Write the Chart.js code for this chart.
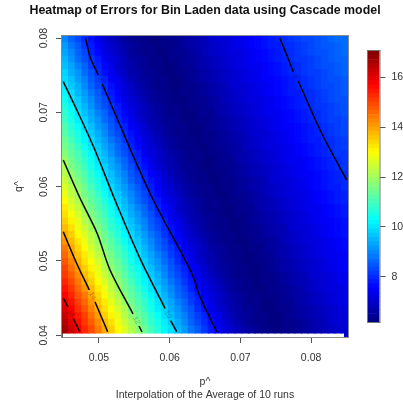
<!DOCTYPE html>
<html>
<head>
<meta charset="utf-8">
<title>Heatmap of Errors</title>
<script src="https://cdn.jsdelivr.net/npm/chart.js@4"></script>
<style>
  html, body { margin: 0; padding: 0; background: #fff; }
  #wrap { position: relative; width: 403px; height: 406px; overflow: hidden; filter: blur(0.45px); }
  canvas { position: absolute; top: 0; }
  #heat { left: 0; }
  #key { left: 355px; }
</style>
</head>
<body>
<div id="wrap">
  <canvas id="heat" width="403" height="406"></canvas>
  <canvas id="key" width="48" height="406"></canvas>
</div>
<script>
const titleText = 'Heatmap of Errors for Bin Laden data using Cascade model';
//grid columns (p^) left to right
const pHat = [0.04524,0.04618,0.04712,0.04806,0.04900,0.04994,0.05089,0.05183,0.05277,0.05371,0.05465,0.05559,0.05653,0.05747,0.05841,0.05935,0.06030,0.06124,0.06218,0.06312,0.06406,0.06500,0.06594,0.06688,0.06782,0.06877,0.06971,0.07065,0.07159,0.07253,0.07347,0.07441,0.07535,0.07629,0.07723,0.07818,0.07912,0.08006,0.08100,0.08194,0.08288,0.08382,0.08476];
//grid rows (q^) top to bottom
const qHat = [0.07983,0.07892,0.07801,0.07710,0.07619,0.07529,0.07438,0.07347,0.07256,0.07165,0.07074,0.06984,0.06893,0.06802,0.06711,0.06620,0.06529,0.06439,0.06348,0.06257,0.06166,0.06075,0.05985,0.05894,0.05803,0.05712,0.05621,0.05530,0.05440,0.05349,0.05258,0.05167,0.05076,0.04985,0.04895,0.04804,0.04713,0.04622,0.04531,0.04440,0.04350,0.04259,0.04168,0.04077];
//errors, one line per qHat row
const errors = [
[9.0,8.6,8.3,8.0,7.7,7.4,7.1,6.9,6.7,6.5,6.4,6.3,6.3,6.2,6.2,6.3,6.3,6.4,6.5,6.6,6.7,6.8,7.0,7.1,7.1,7.2,7.3,7.4,7.5,7.6,7.7,7.8,7.9,8.0,8.1,8.2,8.3,8.3,8.4,8.5,8.6,8.7,8.7],
[9.2,8.8,8.5,8.1,7.8,7.5,7.2,7.0,6.8,6.6,6.5,6.4,6.3,6.3,6.2,6.3,6.3,6.4,6.5,6.6,6.7,6.8,6.9,7.0,7.1,7.2,7.3,7.4,7.5,7.6,7.7,7.8,7.8,8.0,8.0,8.1,8.2,8.3,8.4,8.5,8.5,8.6,8.7],
[9.3,9.0,8.6,8.3,7.9,7.6,7.3,7.1,6.9,6.7,6.5,6.4,6.3,6.3,6.2,6.2,6.3,6.4,6.4,6.5,6.6,6.8,6.9,7.0,7.1,7.2,7.2,7.3,7.4,7.5,7.6,7.7,7.8,7.9,8.0,8.1,8.2,8.3,8.4,8.4,8.5,8.6,8.7],
[9.5,9.1,8.7,8.4,8.1,7.8,7.4,7.2,7.0,6.8,6.6,6.5,6.4,6.3,6.3,6.2,6.3,6.3,6.4,6.5,6.6,6.7,6.8,6.9,7.0,7.1,7.2,7.3,7.4,7.5,7.6,7.7,7.8,7.9,8.0,8.1,8.1,8.2,8.3,8.4,8.5,8.6,8.6],
[9.6,9.3,8.9,8.6,8.2,7.9,7.6,7.3,7.0,6.8,6.7,6.5,6.4,6.3,6.3,6.2,6.2,6.3,6.4,6.4,6.6,6.7,6.8,6.9,7.0,7.1,7.2,7.3,7.4,7.4,7.5,7.6,7.7,7.8,7.9,8.0,8.1,8.2,8.3,8.4,8.4,8.5,8.6],
[9.8,9.4,9.1,8.7,8.4,8.0,7.7,7.4,7.1,6.9,6.7,6.6,6.4,6.4,6.3,6.2,6.2,6.3,6.3,6.4,6.5,6.6,6.7,6.8,6.9,7.0,7.1,7.2,7.3,7.4,7.5,7.6,7.7,7.8,7.9,8.0,8.1,8.2,8.2,8.3,8.4,8.5,8.6],
[9.9,9.6,9.2,8.9,8.5,8.2,7.9,7.5,7.3,7.0,6.8,6.6,6.5,6.4,6.3,6.3,6.2,6.2,6.3,6.4,6.5,6.6,6.7,6.8,6.9,7.0,7.1,7.2,7.3,7.4,7.5,7.5,7.6,7.7,7.8,7.9,8.0,8.1,8.2,8.3,8.4,8.4,8.5],
[10.1,9.7,9.4,9.0,8.6,8.3,8.0,7.7,7.4,7.1,6.9,6.7,6.5,6.4,6.3,6.3,6.2,6.2,6.3,6.3,6.4,6.5,6.6,6.7,6.8,7.0,7.1,7.1,7.2,7.3,7.4,7.5,7.6,7.7,7.8,7.9,8.0,8.1,8.2,8.3,8.3,8.4,8.5],
[10.2,9.9,9.5,9.2,8.8,8.5,8.1,7.8,7.5,7.2,7.0,6.8,6.6,6.5,6.4,6.3,6.3,6.2,6.3,6.3,6.4,6.5,6.6,6.7,6.8,6.9,7.0,7.1,7.2,7.3,7.4,7.5,7.6,7.7,7.8,7.8,8.0,8.0,8.1,8.2,8.3,8.4,8.5],
[10.4,10.0,9.7,9.3,9.0,8.6,8.3,7.9,7.6,7.3,7.1,6.9,6.7,6.5,6.4,6.3,6.3,6.2,6.2,6.3,6.4,6.4,6.5,6.6,6.8,6.9,7.0,7.1,7.2,7.2,7.3,7.4,7.5,7.6,7.7,7.8,7.9,8.0,8.1,8.2,8.3,8.4,8.4],
[10.6,10.2,9.8,9.5,9.1,8.7,8.4,8.1,7.8,7.4,7.2,7.0,6.8,6.6,6.5,6.4,6.3,6.3,6.2,6.3,6.3,6.4,6.5,6.6,6.7,6.8,6.9,7.0,7.1,7.2,7.3,7.4,7.5,7.6,7.7,7.8,7.9,8.0,8.1,8.1,8.2,8.3,8.4],
[10.8,10.4,10.0,9.6,9.3,8.9,8.6,8.2,7.9,7.6,7.3,7.0,6.8,6.7,6.5,6.4,6.3,6.3,6.2,6.2,6.3,6.4,6.4,6.6,6.7,6.8,6.9,7.0,7.1,7.2,7.3,7.4,7.4,7.5,7.6,7.7,7.8,7.9,8.0,8.1,8.2,8.3,8.4],
[10.9,10.5,10.1,9.8,9.4,9.1,8.7,8.4,8.0,7.7,7.4,7.1,6.9,6.7,6.6,6.4,6.4,6.3,6.2,6.2,6.3,6.3,6.4,6.5,6.6,6.7,6.8,6.9,7.0,7.1,7.2,7.3,7.4,7.5,7.6,7.7,7.8,7.9,8.0,8.1,8.2,8.2,8.3],
[11.1,10.7,10.3,9.9,9.6,9.2,8.9,8.5,8.2,7.9,7.5,7.3,7.0,6.8,6.6,6.5,6.4,6.3,6.3,6.2,6.2,6.3,6.4,6.5,6.6,6.7,6.8,6.9,7.0,7.1,7.2,7.3,7.4,7.5,7.5,7.6,7.7,7.8,7.9,8.0,8.1,8.2,8.3],
[11.2,10.8,10.5,10.1,9.7,9.4,9.0,8.6,8.3,8.0,7.7,7.4,7.1,6.9,6.7,6.5,6.4,6.3,6.3,6.2,6.2,6.3,6.3,6.4,6.5,6.6,6.7,6.8,7.0,7.1,7.1,7.2,7.3,7.4,7.5,7.6,7.7,7.8,7.9,8.0,8.1,8.2,8.3],
[11.4,11.0,10.6,10.2,9.9,9.5,9.2,8.8,8.5,8.1,7.8,7.5,7.2,7.0,6.8,6.6,6.5,6.4,6.3,6.3,6.2,6.3,6.3,6.4,6.5,6.6,6.7,6.8,6.9,7.0,7.1,7.2,7.3,7.4,7.5,7.6,7.7,7.8,7.8,8.0,8.0,8.1,8.2],
[11.5,11.2,10.8,10.4,10.0,9.7,9.3,9.0,8.6,8.3,7.9,7.6,7.3,7.1,6.9,6.7,6.5,6.4,6.3,6.3,6.2,6.2,6.3,6.4,6.4,6.5,6.6,6.8,6.9,7.0,7.1,7.2,7.2,7.3,7.4,7.5,7.6,7.7,7.8,7.9,8.0,8.1,8.2],
[11.7,11.3,11.0,10.6,10.2,9.8,9.5,9.1,8.7,8.4,8.1,7.8,7.4,7.2,7.0,6.8,6.6,6.5,6.4,6.3,6.3,6.2,6.3,6.3,6.4,6.5,6.6,6.7,6.8,6.9,7.0,7.1,7.2,7.3,7.4,7.5,7.6,7.7,7.8,7.9,8.0,8.1,8.1],
[11.9,11.5,11.1,10.8,10.4,10.0,9.6,9.3,8.9,8.6,8.2,7.9,7.6,7.3,7.0,6.8,6.7,6.5,6.4,6.3,6.3,6.2,6.2,6.3,6.4,6.4,6.6,6.7,6.8,6.9,7.0,7.1,7.2,7.3,7.4,7.4,7.5,7.6,7.7,7.8,7.9,8.0,8.1],
[12.1,11.6,11.3,10.9,10.5,10.1,9.8,9.4,9.1,8.7,8.4,8.0,7.7,7.4,7.1,6.9,6.7,6.6,6.4,6.4,6.3,6.2,6.2,6.3,6.3,6.4,6.5,6.6,6.7,6.8,6.9,7.0,7.1,7.2,7.3,7.4,7.5,7.6,7.7,7.8,7.9,8.0,8.1],
[12.2,11.8,11.4,11.1,10.7,10.3,9.9,9.6,9.2,8.9,8.5,8.2,7.9,7.5,7.3,7.0,6.8,6.6,6.5,6.4,6.3,6.3,6.2,6.2,6.3,6.4,6.5,6.6,6.7,6.8,6.9,7.0,7.1,7.2,7.3,7.4,7.5,7.5,7.6,7.7,7.8,7.9,8.0],
[12.4,12.0,11.6,11.2,10.8,10.5,10.1,9.7,9.4,9.0,8.6,8.3,8.0,7.7,7.4,7.1,6.9,6.7,6.5,6.4,6.3,6.3,6.2,6.2,6.3,6.3,6.4,6.5,6.6,6.7,6.8,7.0,7.1,7.1,7.2,7.3,7.4,7.5,7.6,7.7,7.8,7.9,8.0],
[12.6,12.2,11.8,11.4,11.0,10.6,10.2,9.9,9.5,9.2,8.8,8.5,8.1,7.8,7.5,7.2,7.0,6.8,6.6,6.5,6.4,6.3,6.3,6.2,6.3,6.3,6.4,6.5,6.6,6.7,6.8,6.9,7.0,7.1,7.2,7.3,7.4,7.5,7.6,7.7,7.8,7.8,8.0],
[12.8,12.3,11.9,11.5,11.2,10.8,10.4,10.0,9.7,9.3,9.0,8.6,8.3,7.9,7.6,7.3,7.1,6.9,6.7,6.5,6.4,6.3,6.3,6.2,6.2,6.3,6.4,6.4,6.5,6.6,6.8,6.9,7.0,7.1,7.2,7.2,7.3,7.4,7.5,7.6,7.7,7.8,7.9],
[13.0,12.5,12.1,11.7,11.3,11.0,10.6,10.2,9.8,9.5,9.1,8.7,8.4,8.1,7.8,7.4,7.2,7.0,6.8,6.6,6.5,6.4,6.3,6.3,6.2,6.3,6.3,6.4,6.5,6.6,6.7,6.8,6.9,7.0,7.1,7.2,7.3,7.4,7.5,7.6,7.7,7.8,7.9],
[13.2,12.7,12.3,11.9,11.5,11.1,10.8,10.4,10.0,9.6,9.3,8.9,8.6,8.2,7.9,7.6,7.3,7.0,6.8,6.7,6.5,6.4,6.3,6.3,6.2,6.2,6.3,6.4,6.4,6.6,6.7,6.8,6.9,7.0,7.1,7.2,7.3,7.4,7.4,7.5,7.6,7.7,7.8],
[13.3,12.9,12.5,12.1,11.6,11.3,10.9,10.5,10.1,9.8,9.4,9.1,8.7,8.4,8.0,7.7,7.4,7.1,6.9,6.7,6.6,6.4,6.4,6.3,6.2,6.2,6.3,6.3,6.4,6.5,6.6,6.7,6.8,6.9,7.0,7.1,7.2,7.3,7.4,7.5,7.6,7.7,7.8],
[13.5,13.1,12.7,12.2,11.8,11.4,11.1,10.7,10.3,9.9,9.6,9.2,8.9,8.5,8.2,7.9,7.5,7.3,7.0,6.8,6.6,6.5,6.4,6.3,6.3,6.2,6.2,6.3,6.4,6.5,6.6,6.7,6.8,6.9,7.0,7.1,7.2,7.3,7.4,7.5,7.5,7.6,7.7],
[13.7,13.3,12.8,12.4,12.0,11.6,11.2,10.8,10.5,10.1,9.7,9.4,9.0,8.6,8.3,8.0,7.7,7.4,7.1,6.9,6.7,6.5,6.4,6.3,6.3,6.2,6.2,6.3,6.3,6.4,6.5,6.6,6.7,6.8,7.0,7.1,7.1,7.2,7.3,7.4,7.5,7.6,7.7],
[13.9,13.5,13.0,12.6,12.2,11.8,11.4,11.0,10.6,10.2,9.9,9.5,9.2,8.8,8.5,8.1,7.8,7.5,7.2,7.0,6.8,6.6,6.5,6.4,6.3,6.3,6.2,6.3,6.3,6.4,6.5,6.6,6.7,6.8,6.9,7.0,7.1,7.2,7.3,7.4,7.5,7.6,7.7],
[14.1,13.7,13.2,12.8,12.3,11.9,11.5,11.2,10.8,10.4,10.0,9.7,9.3,9.0,8.6,8.3,7.9,7.6,7.3,7.1,6.9,6.7,6.5,6.4,6.3,6.3,6.2,6.2,6.3,6.4,6.4,6.5,6.6,6.8,6.9,7.0,7.1,7.2,7.2,7.3,7.4,7.5,7.6],
[14.4,13.9,13.4,13.0,12.5,12.1,11.7,11.3,11.0,10.6,10.2,9.8,9.5,9.1,8.7,8.4,8.1,7.8,7.4,7.2,7.0,6.8,6.6,6.5,6.4,6.3,6.3,6.2,6.3,6.3,6.4,6.5,6.6,6.7,6.8,6.9,7.0,7.1,7.2,7.3,7.4,7.5,7.6],
[14.6,14.1,13.6,13.2,12.7,12.3,11.9,11.5,11.1,10.8,10.4,10.0,9.6,9.3,8.9,8.6,8.2,7.9,7.6,7.3,7.0,6.8,6.7,6.5,6.4,6.3,6.3,6.2,6.2,6.3,6.4,6.4,6.6,6.7,6.8,6.9,7.0,7.1,7.2,7.3,7.4,7.4,7.5],
[14.8,14.3,13.8,13.3,12.9,12.5,12.1,11.6,11.3,10.9,10.5,10.1,9.8,9.4,9.1,8.7,8.4,8.0,7.7,7.4,7.1,6.9,6.7,6.6,6.4,6.4,6.3,6.2,6.2,6.3,6.3,6.4,6.5,6.6,6.7,6.8,6.9,7.0,7.1,7.2,7.3,7.4,7.5],
[15.0,14.5,14.0,13.5,13.1,12.7,12.2,11.8,11.4,11.1,10.7,10.3,9.9,9.6,9.2,8.9,8.5,8.2,7.9,7.5,7.3,7.0,6.8,6.6,6.5,6.4,6.3,6.3,6.2,6.2,6.3,6.4,6.5,6.6,6.7,6.8,6.9,7.0,7.1,7.2,7.3,7.4,7.5],
[15.1,14.7,14.2,13.7,13.3,12.8,12.4,12.0,11.6,11.2,10.8,10.5,10.1,9.7,9.4,9.0,8.6,8.3,8.0,7.7,7.4,7.1,6.9,6.7,6.5,6.4,6.3,6.3,6.2,6.2,6.3,6.3,6.4,6.5,6.6,6.7,6.8,7.0,7.1,7.1,7.2,7.3,7.4],
[15.3,14.9,14.4,13.9,13.5,13.0,12.6,12.2,11.8,11.4,11.0,10.6,10.2,9.9,9.5,9.2,8.8,8.5,8.1,7.8,7.5,7.2,7.0,6.8,6.6,6.5,6.4,6.3,6.3,6.2,6.3,6.3,6.4,6.5,6.6,6.7,6.8,6.9,7.0,7.1,7.2,7.3,7.4],
[15.5,15.1,14.6,14.1,13.7,13.2,12.8,12.3,11.9,11.5,11.2,10.8,10.4,10.0,9.7,9.3,9.0,8.6,8.3,7.9,7.6,7.3,7.1,6.9,6.7,6.5,6.4,6.3,6.3,6.2,6.2,6.3,6.4,6.4,6.5,6.6,6.8,6.9,7.0,7.1,7.2,7.2,7.3],
[15.7,15.3,14.8,14.4,13.9,13.4,13.0,12.5,12.1,11.7,11.3,11.0,10.6,10.2,9.8,9.5,9.1,8.7,8.4,8.1,7.8,7.4,7.2,7.0,6.8,6.6,6.5,6.4,6.3,6.3,6.2,6.3,6.3,6.4,6.5,6.6,6.7,6.8,6.9,7.0,7.1,7.2,7.3],
[15.9,15.5,15.0,14.6,14.1,13.6,13.2,12.7,12.3,11.9,11.5,11.1,10.8,10.4,10.0,9.6,9.3,8.9,8.6,8.2,7.9,7.6,7.3,7.0,6.8,6.7,6.5,6.4,6.3,6.3,6.2,6.2,6.3,6.4,6.4,6.6,6.7,6.8,6.9,7.0,7.1,7.2,7.3],
[16.1,15.7,15.2,14.8,14.3,13.8,13.3,12.9,12.5,12.1,11.6,11.3,10.9,10.5,10.1,9.8,9.4,9.1,8.7,8.4,8.0,7.7,7.4,7.1,6.9,6.7,6.6,6.4,6.4,6.3,6.2,6.2,6.3,6.3,6.4,6.5,6.6,6.7,6.8,6.9,7.0,7.1,7.2],
[16.3,15.8,15.4,15.0,14.5,14.0,13.5,13.1,12.7,12.2,11.8,11.4,11.1,10.7,10.3,9.9,9.6,9.2,8.9,8.5,8.2,7.9,7.5,7.3,7.0,6.8,6.6,6.5,6.4,6.3,6.3,6.2,6.2,6.3,6.4,6.5,6.6,6.7,6.8,6.9,7.0,7.1,7.2],
[16.5,16.0,15.6,15.1,14.7,14.2,13.7,13.3,12.8,12.4,12.0,11.6,11.2,10.8,10.5,10.1,9.7,9.4,9.0,8.6,8.3,8.0,7.7,7.4,7.1,6.9,6.7,6.5,6.4,6.3,6.3,6.2,6.2,6.3,6.3,6.4,6.5,6.6,6.7,6.8,7.0,7.1,7.1],
[16.7,16.2,15.8,15.3,14.9,14.4,13.9,13.5,13.0,12.6,12.2,11.8,11.4,11.0,10.6,10.2,9.9,9.5,9.2,8.8,8.5,8.1,7.8,7.5,7.2,7.0,6.8,6.6,6.5,6.4,6.3,6.3,6.2,6.3,6.3,6.4,6.5,6.6,6.7,6.8,6.9,7.0,7.1]
];
//the last column runs a bit lower than the rest of the grid
const cornerP = [0.08494];
const cornerQ = [0.04004];
const cornerErr = [7.1];

//contour pieces, R leaves gaps where the labels sit
const contourP = [
  [0.04495,0.04562],[0.04636,0.04727],
  [0.04495,0.04675,0.04863],[0.04943,0.05123],
  [0.04495,0.04731,0.04972,0.05156,0.05481],[0.05566,0.05608],
  [0.04495,0.04731,0.04943,0.05226,0.05580,0.05934],[0.06014,0.06099],
  [0.04812,0.04873,0.04990],[0.05047,0.05297,0.05509,0.05768,0.06311,0.06429,0.06665],
  [0.07560,0.07655,0.07748],[0.07819,0.08150,0.08503]
];
const contourQ = [
  [0.04502,0.04381],[0.04229,0.04048],
  [0.05394,0.04987,0.04610],[0.04452,0.04048],
  [0.06359,0.05848,0.05377,0.04879,0.04287],[0.04125,0.04044],
  [0.07413,0.06942,0.06494,0.05821,0.05036,0.04363],[0.04197,0.04048],
  [0.07997,0.07750,0.07503],[0.07382,0.06830,0.06359,0.05821,0.04838,0.04520,0.04048],
  [0.07997,0.07773,0.07548],[0.07423,0.06719,0.06090]
];
const labelText = ['16','14','12','10','8','8'];
const labelP = [0.04604,0.04908,0.05530,0.05972,0.05020,0.07785];
const labelQ = [0.04300,0.04530,0.04200,0.04280,0.07440,0.07485];

const pTicks = [0.05,0.06,0.07,0.08];
const qTicks = [0.04,0.05,0.06,0.07,0.08];
const keyTicks = [8,10,12,14,16];
const zMin = 6.19;
const zMax = 17.05;
const nLevels = 64;

//jet colours, t goes 0 to 1
function jet(t) {
    const part = c => Math.round(255 * Math.min(1, Math.max(0, 1.5 - Math.abs(4 * t - c))));
    return `rgb(${part(3)},${part(2)},${part(1)})`;
}
const cellColor = v => jet((v - zMin) / (zMax - zMin));

const cells = [];
qHat.forEach((q, r) => pHat.forEach((p, c) => cells.push({x: p, y: q, v: errors[r][c]})));
const corner = cornerP.map((p, i) => ({x: p, y: cornerQ[i], v: cornerErr[i]}));

const contourSets = contourP.map((ps, i) => ({
    data: ps.map((p, k) => ({x: p, y: contourQ[i][k]})),
    showLine: true,
    borderColor: '#000',
    borderWidth: 1.5,
    tension: 0.3,
    pointRadius: 0,
    order: 0,
    clip: 0
}));

//title, R box and the small labels inside the contour gaps
const extras = {
    id: 'extras',
    afterDatasetsDraw(chart) {
        const {ctx, chartArea: a, scales: {x, y}} = chart;
        ctx.save();
        ctx.font = '7px "Liberation Sans"';
        ctx.fillStyle = 'rgba(0,0,0,0.28)';
        ctx.textAlign = 'center';
        ctx.textBaseline = 'middle';
        labelText.forEach((t, i) => {
            ctx.save();
            ctx.translate(x.getPixelForValue(labelP[i]), y.getPixelForValue(labelQ[i]));
            ctx.rotate(1.1);
            ctx.fillText(t, 0, 0);
            ctx.restore();
        });
        ctx.font = 'bold 12.4px "Liberation Sans"';
        ctx.fillStyle = '#111';
        ctx.fillText(titleText, (a.left + a.right) / 2, 11);
        ctx.strokeStyle = '#8a8a8a';
        ctx.lineWidth = 1;
        ctx.strokeRect(a.left - 0.5, a.top - 0.5, a.width + 1, a.height + 1);
        ctx.restore();
    }
};

const textFont = {family: '"Liberation Sans", Arial, sans-serif', size: 10.5};

new Chart(document.getElementById('heat'), {
    type: 'scatter',
    data: {
        datasets: contourSets.concat([
            {
                data: cells,
                pointStyle: 'rect',
                pointRadius: 5.6,
                pointBorderWidth: 0,
                pointBackgroundColor: c => cellColor(c.raw.v),
                order: 1,
                clip: 0
            },
            {
                data: corner,
                pointStyle: 'rect',
                pointRadius: 2.9,
                pointBorderWidth: 0,
                pointBackgroundColor: c => cellColor(c.raw.v),
                order: 1,
                clip: 0
            }
        ])
    },
    options: {
        responsive: false,
        animation: false,
        layout: {padding: {left: 0, right: 55, top: 36, bottom: 0}},
        plugins: {
            legend: {display: false},
            tooltip: {enabled: false}
        },
        scales: {
            x: {
                type: 'linear',
                min: 0.04477,
                max: 0.08522,
                afterBuildTicks: s => { s.ticks = pTicks.map(v => ({value: v})); },
                afterFit: s => { s.height = 69; },
                grid: {drawOnChartArea: false, tickLength: 6, color: '#555'},
                border: {color: '#555'},
                ticks: {
                    padding: 9,
                    maxRotation: 0,
                    color: '#333',
                    font: textFont,
                    callback: v => v.toFixed(2)
                },
                title: {
                    display: true,
                    text: ['p^', 'Interpolation of the Average of 10 runs'],
                    color: '#333',
                    font: {family: textFont.family, size: 10.5, lineHeight: 1.25},
                    padding: {top: 0, bottom: 4}
                }
            },
            y: {
                type: 'linear',
                min: 0.03977,
                max: 0.08028,
                afterBuildTicks: s => { s.ticks = qTicks.map(v => ({value: v})); },
                afterFit: s => { s.width = 62; },
                grid: {drawOnChartArea: false, tickLength: 6, color: '#555'},
                border: {color: '#555'},
                ticks: {
                    padding: 2,
                    minRotation: 90,
                    maxRotation: 90,
                    crossAlign: 'center',
                    color: '#333',
                    font: textFont,
                    callback: v => v.toFixed(2)
                },
                title: {
                    display: true,
                    text: 'q^',
                    color: '#333',
                    font: {family: textFont.family, size: 10.5},
                    padding: {top: 13, bottom: 0}
                }
            }
        }
    },
    plugins: [extras]
});

//colour key on the right, one floating bar per level
const keySets = [];
for (let i = 0; i < nLevels; i++) {
    const lo = zMin + (zMax - zMin) * i / nLevels;
    const hi = zMin + (zMax - zMin) * (i + 1) / nLevels;
    keySets.push({
        data: [[lo, hi]],
        backgroundColor: jet((i + 0.5) / nLevels),
        borderWidth: 0,
        barPercentage: 1,
        categoryPercentage: 1,
        grouped: false
    });
}

const keyBox = {
    id: 'keyBox',
    afterDatasetsDraw(chart) {
        const {ctx, chartArea: a} = chart;
        ctx.save();
        ctx.strokeStyle = '#777';
        ctx.lineWidth = 1;
        ctx.strokeRect(a.left - 0.5, a.top - 0.5, a.width + 1, a.height + 1);
        ctx.restore();
    }
};

new Chart(document.getElementById('key'), {
    type: 'bar',
    data: {labels: [''], datasets: keySets},
    options: {
        responsive: false,
        animation: false,
        layout: {padding: {left: 13, right: 0, top: 51, bottom: 84}},
        plugins: {legend: {display: false}, tooltip: {enabled: false}},
        scales: {
            x: {display: false},
            y: {
                position: 'right',
                min: zMin,
                max: zMax,
                afterBuildTicks: s => { s.ticks = keyTicks.map(v => ({value: v})); },
                afterFit: s => { s.width = 23.5; },
                grid: {drawOnChartArea: false, tickLength: 6, color: '#555'},
                border: {display: false},
                ticks: {
                    padding: 6,
                    color: '#333',
                    font: textFont
                }
            }
        }
    },
    plugins: [keyBox]
});
</script>
</body>
</html>
